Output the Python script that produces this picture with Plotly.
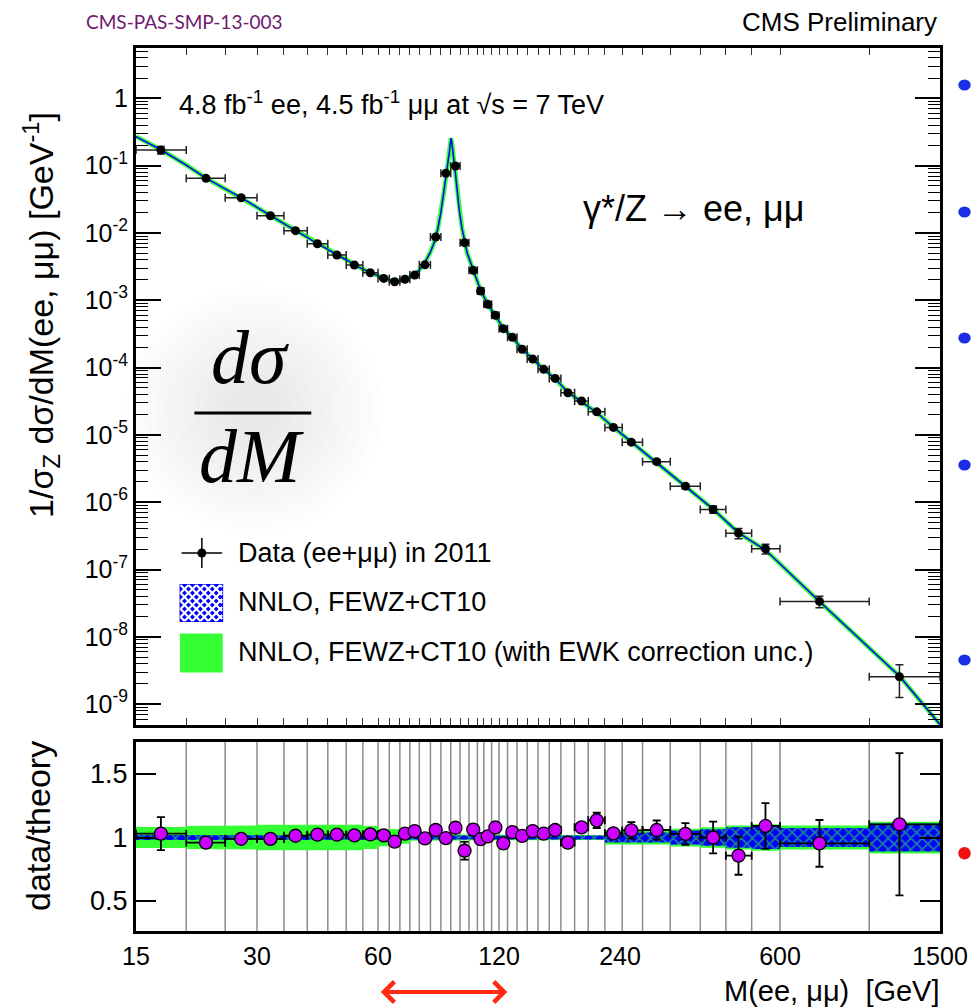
import plotly.graph_objects as go

# ---------------- data ----------------
bin_edges = [15, 20, 25, 30, 35, 40, 45, 50, 55, 60, 64, 68, 72, 76, 81, 86, 91, 96, 101,
             106, 110, 115, 120, 126, 133, 141, 150, 160, 171, 185, 200, 220, 243, 273,
             320, 380, 440, 510, 600, 1000, 1500]

mass_pts = [17.3, 22.4, 27.4, 32.4, 37.4, 42.4, 47.4, 52.4, 57.4, 62.0, 66.0, 70.0, 74.0,
            78.5, 83.5, 88.5, 93.5, 98.5, 103.5, 108.0, 112.5, 117.5, 123.0, 129.5, 137.0,
            145.5, 155.0, 165.5, 178.0, 192.5, 210.0, 231.0, 256.0, 296.0, 349.0, 409.0,
            473.0, 552.0, 752.0, 1189.0]

xsec = [0.170, 0.0647, 0.0333, 0.0180, 0.0108, 0.00691, 0.00470, 0.00334, 0.00256, 0.00211,
        0.00188, 0.00205, 0.00237, 0.00337, 0.00869, 0.0769, 0.0987, 0.00716, 0.00278,
        0.00137, 8.7e-4, 5.97e-4, 3.78e-4, 2.81e-4, 1.87e-4, 1.34e-4, 9.4e-5, 6.9e-5,
        4.23e-5, 3.18e-5, 2.2e-5, 1.29e-5, 7.8e-6, 4.0e-6, 1.73e-6, 7.8e-7, 3.47e-7,
        2.03e-7, 3.36e-8, 2.55e-9]

ratio = [1.030, 0.959, 0.990, 0.989, 1.014, 1.023, 1.023, 1.017, 1.025, 1.017, 0.968, 1.030,
         1.050, 0.993, 1.059, 0.995, 1.077, 0.896, 1.062, 0.987, 1.009, 1.079, 0.954, 1.042,
         1.013, 1.051, 1.031, 1.059, 0.960, 1.080, 1.135, 1.033, 1.056, 1.059, 1.028, 1.000,
         0.857, 1.091, 0.954, 1.104]

ratio_err = [0.13, 0.03, 0.015, 0.015, 0.012, 0.01, 0.01, 0.01, 0.01, 0.01, 0.01, 0.01,
             0.012, 0.01, 0.04, 0.01, 0.015, 0.07, 0.04, 0.01, 0.01, 0.012, 0.02, 0.015,
             0.015, 0.02, 0.02, 0.03, 0.03, 0.035, 0.06, 0.03, 0.065, 0.075, 0.085, 0.125,
             0.15, 0.18, 0.184, 0.56]

theory_mass = [15, 17.3, 20, 22.4, 25, 27.4, 30, 32.4, 35, 37.4, 40, 42.4, 45, 47.4, 50, 52.4,
               55, 57.4, 60, 62, 64, 66, 68, 70, 72, 74, 76, 79, 81, 83, 84.5, 86, 87.5, 88.5,
               89.5, 90.3, 90.8, 91.1, 91.4, 91.8, 92.5, 93.5, 94.5, 95.5, 97, 98.5, 100, 102,
               103.5, 106, 108, 112.5, 117.5, 123, 129.5, 137, 145.5, 155, 165.5, 178, 192.5,
               210, 231, 256, 294, 349, 409, 473, 552, 750, 1000, 1190, 1500]

theory_xsec = [0.27, 0.172, 0.102, 0.065, 0.045, 0.0335, 0.024, 0.018, 0.0138, 0.0108, 0.0086,
               0.0069, 0.0057, 0.0047, 0.0040, 0.00335, 0.0029, 0.00256, 0.0023, 0.00212,
               0.0020, 0.00192, 0.00194, 0.00205, 0.0022, 0.0024, 0.0028, 0.0039, 0.0052,
               0.0075, 0.0115, 0.020, 0.040, 0.065, 0.10, 0.16, 0.215, 0.255, 0.24, 0.20, 0.13,
               0.075, 0.040, 0.022, 0.012, 0.0075, 0.0050, 0.0036, 0.0028, 0.0019, 0.0014,
               8.7e-4, 5.95e-4, 3.8e-4, 2.8e-4, 1.88e-4, 1.33e-4, 9.4e-5, 6.8e-5, 4.3e-5,
               3.1e-5, 2.15e-5, 1.3e-5, 7.9e-6, 4.0e-6, 1.75e-6, 7.9e-7, 3.5e-7, 1.95e-7,
               3.4e-8, 6.9e-9, 2.6e-9, 5.0e-10]

# relative half-widths of the theory bands in the ratio panel (one per bin)
ewk_band_hw = [0.083, 0.09, 0.095, 0.10, 0.105, 0.105, 0.10, 0.10, 0.09, 0.07, 0.065, 0.05,
               0.025, 0.025, 0.025, 0.025, 0.02, 0.02, 0.02, 0.02, 0.02, 0.02, 0.02, 0.02,
               0.02, 0.02, 0.02, 0.02, 0.02, 0.02, 0.02, 0.055, 0.055, 0.055, 0.07, 0.08,
               0.095, 0.105, 0.095, 0.125]
fewz_band_hw = [0.02, 0.02, 0.02, 0.02, 0.02, 0.02, 0.02, 0.02, 0.02, 0.02, 0.02, 0.02,
                0.015, 0.015, 0.015, 0.015, 0.015, 0.015, 0.015, 0.015, 0.015, 0.015, 0.015,
                0.015, 0.015, 0.015, 0.015, 0.015, 0.015, 0.015, 0.015, 0.04, 0.04, 0.04,
                0.055, 0.065, 0.08, 0.09, 0.075, 0.11]

x_ticks_bottom = [15, 30, 60, 120, 240, 600, 1500]
x_tick_text = ["15", "30", "60", "120", "240", "600", "1500"]
y_ticks_top = [1e-9, 1e-8, 1e-7, 1e-6, 1e-5, 1e-4, 1e-3, 1e-2, 1e-1, 1]
y_tick_text_top = ["10<sup>-9</sup>", "10<sup>-8</sup>", "10<sup>-7</sup>", "10<sup>-6</sup>",
                   "10<sup>-5</sup>", "10<sup>-4</sup>", "10<sup>-3</sup>", "10<sup>-2</sup>",
                   "10<sup>-1</sup>", "1"]
legend_labels = ["Data (ee+μμ) in 2011", "NNLO, FEWZ+CT10",
                 "NNLO, FEWZ+CT10 (with EWK correction unc.)"]

# ---------------- geometry helpers ----------------
W, H = 980, 1008
L, R, T, B = 136, 32, 48, 77
PW, PH = W - L - R, H - T - B


def px(xp):
    return (xp - L) / PW


def py(yp):
    return (H - B - yp) / PH


FONT = "Liberation Sans, Arial, sans-serif"
GREEN = "#33ff33"
BLUE = "#0000ff"
MAGENTA = "#cc00ff"

fig = go.Figure()

# vertical bin-edge lines in ratio panel
gx, gy = [], []
for e in bin_edges[1:-1]:
    gx += [e, e, None]
    gy += [0.264, 1.752, None]
fig.add_trace(go.Scatter(x=gx, y=gy, mode="lines", line=dict(color="#8c8c8c", width=1.5),
                         xaxis="x2", yaxis="y2", showlegend=False, hoverinfo="skip"))


def band_polygon(hw):
    xs, up, lo = [], [], []
    for i in range(len(hw)):
        xs += [bin_edges[i], bin_edges[i + 1]]
        up += [1 + hw[i]] * 2
        lo += [1 - hw[i]] * 2
    return xs + xs[::-1], up + lo[::-1]


bx, by = band_polygon(ewk_band_hw)
fig.add_trace(go.Scatter(x=bx, y=by, mode="lines", fill="toself", fillcolor=GREEN,
                         line=dict(width=0, color=GREEN), xaxis="x2", yaxis="y2",
                         name=legend_labels[2], showlegend=False, hoverinfo="skip"))
bx, by = band_polygon(fewz_band_hw)
fig.add_trace(go.Scatter(x=bx, y=by, mode="lines", fill="toself", fillcolor=BLUE,
                         fillpattern=dict(shape="x", fgcolor=GREEN, bgcolor=BLUE,
                                          size=8, solidity=0.4),
                         line=dict(width=0, color=BLUE), xaxis="x2", yaxis="y2",
                         name=legend_labels[1], showlegend=False, hoverinfo="skip"))

# theory curve in top panel
fig.add_trace(go.Scatter(x=theory_mass, y=theory_xsec, mode="lines",
                         line=dict(color=GREEN, width=4.5), showlegend=False,
                         xaxis="x", yaxis="y", hoverinfo="skip"))
fig.add_trace(go.Scatter(x=theory_mass, y=theory_xsec, mode="lines",
                         line=dict(color=BLUE, width=1.5), showlegend=False,
                         xaxis="x", yaxis="y"))

# x errors from bin edges
ex_plus = [bin_edges[i + 1] - mass_pts[i] for i in range(len(mass_pts))]
ex_minus = [mass_pts[i] - bin_edges[i] for i in range(len(mass_pts))]
ey_top = [xsec[i] * ratio_err[i] / ratio[i] for i in range(len(mass_pts))]

fig.add_trace(go.Scatter(x=mass_pts, y=xsec, mode="markers",
                         marker=dict(color="black", size=9),
                         error_x=dict(type="data", array=ex_plus, arrayminus=ex_minus,
                                      color="#222222", thickness=1.5, width=4),
                         error_y=dict(type="data", array=ey_top, color="#222222",
                                      thickness=1.5, width=4),
                         name=legend_labels[0], showlegend=False,
                         xaxis="x", yaxis="y"))

fig.add_trace(go.Scatter(x=mass_pts, y=ratio, mode="markers",
                         marker=dict(color=MAGENTA, size=13, line=dict(color="black", width=1.3)),
                         error_x=dict(type="data", array=ex_plus, arrayminus=ex_minus,
                                      color="black", thickness=1.8, width=4),
                         error_y=dict(type="data", array=ratio_err, color="black",
                                      thickness=1.8, width=4),
                         showlegend=False, xaxis="x2", yaxis="y2"))

# ---------------- decorations ----------------
shapes = []


def pline(x0, y0, x1, y1, color, width):
    return dict(type="line", xref="paper", yref="paper", x0=px(x0), y0=py(y0),
                x1=px(x1), y1=py(y1), line=dict(color=color, width=width))


# soft shadow behind d sigma / dM
cx, cy = 255, 410
for r in range(30, 131, 10):
    shapes.append(dict(type="circle", xref="paper", yref="paper",
                       x0=px(cx - r), x1=px(cx + r), y0=py(cy + r * 0.95), y1=py(cy - r * 0.95),
                       fillcolor="rgba(0,0,0,0.009)", line=dict(width=0), layer="below"))
# fraction bar
shapes.append(pline(195, 413, 313, 413, "black", 3))

# manual legend icons
shapes.append(pline(182, 553, 223, 553, "black", 1.5))
shapes.append(pline(202.5, 538, 202.5, 568, "black", 1.5))
shapes.append(dict(type="circle", xref="paper", yref="paper", x0=px(198), x1=px(207),
                   y0=py(557.5), y1=py(548.5), fillcolor="black", line=dict(width=0)))
# hatched icon
hx0, hx1, hy0, hy1 = 181, 223, 585, 621
shapes.append(dict(type="rect", xref="paper", yref="paper", x0=px(hx0), x1=px(hx1),
                   y0=py(hy1), y1=py(hy0), fillcolor=BLUE, line=dict(color=BLUE, width=2)))
step = 8
for sgn in (1, -1):
    for k in range(-8, 14):
        xs = hx0 + k * step
        if sgn == 1:
            t0, t1 = max(hx0 - xs, 0), min(hx1 - xs, hy1 - hy0)
        else:
            t0, t1 = max(xs - hx1, 0), min(xs - hx0, hy1 - hy0)
        if t1 - t0 > 1:
            shapes.append(pline(xs + sgn * t0, hy0 + t0, xs + sgn * t1, hy0 + t1, "white", 2.2))
# green icon
shapes.append(dict(type="rect", xref="paper", yref="paper", x0=px(181), x1=px(223),
                   y0=py(672), y1=py(634), fillcolor=GREEN, line=dict(color=GREEN, width=1)))

# bullets cut at right edge
for yb in [85, 212, 338, 465, 660]:
    shapes.append(dict(type="circle", xref="paper", yref="paper", x0=px(966.5), x1=px(979),
                       y0=py(yb + 5.5), y1=py(yb - 5.5), fillcolor="#1a2ee6",
                       line=dict(width=0)))
shapes.append(dict(type="circle", xref="paper", yref="paper", x0=px(966.5), x1=px(979),
                   y0=py(859.5), y1=py(847), fillcolor="#f01010", line=dict(width=0)))

annotations = [
    dict(text="CMS-PAS-SMP-13-003", x=px(83), y=py(22), xref="paper", yref="paper",
         xanchor="left", yanchor="middle", showarrow=False,
         font=dict(family="Lato, Noto Sans, sans-serif", size=19, color="#6e1a6e")),
    dict(text="CMS Preliminary", x=px(947), y=py(22), xref="paper", yref="paper",
         xanchor="right", yanchor="middle", showarrow=False,
         font=dict(family=FONT, size=26, color="black")),
    dict(text="4.8 fb<sup>-1</sup> ee, 4.5 fb<sup>-1</sup> μμ at √s = 7 TeV", x=px(177),
         y=py(103), xref="paper", yref="paper", xanchor="left", yanchor="middle",
         showarrow=False, font=dict(family=FONT, size=27)),
    dict(text="γ*/Z → ee, μμ", x=px(585), y=py(208), xref="paper", yref="paper",
         xanchor="left", yanchor="middle", showarrow=False, font=dict(family=FONT, size=36)),
    dict(text="1/σ<sub>Z</sub> dσ/dM(ee, μμ) [GeV<sup>-1</sup>]", x=px(40), y=py(315),
         xref="paper", yref="paper", xanchor="center", yanchor="middle", textangle=-90,
         showarrow=False, font=dict(family=FONT, size=34)),
    dict(text="data/theory", x=px(37), y=py(826), xref="paper", yref="paper",
         xanchor="center", yanchor="middle", textangle=-90, showarrow=False,
         font=dict(family=FONT, size=34)),
    dict(text="M(ee, μμ)  [GeV]", x=px(949), y=py(1008), xref="paper", yref="paper",
         xanchor="right", yanchor="bottom", showarrow=False, borderpad=0,
         font=dict(family=FONT, size=29)),
    dict(text="<i>dσ</i>", x=px(251), y=py(357), xref="paper", yref="paper",
         xanchor="center", yanchor="middle", showarrow=False,
         font=dict(family="Liberation Serif, serif", size=76, color="black")),
    dict(text="<i>dM</i>", x=px(253), y=py(456), xref="paper", yref="paper",
         xanchor="center", yanchor="middle", showarrow=False,
         font=dict(family="Liberation Serif, serif", size=76, color="black")),
    dict(text="", x=px(511), y=py(992), xref="paper", yref="paper", ax=-128, ay=0,
         axref="pixel", ayref="pixel", showarrow=True, arrowside="end+start",
         arrowhead=4, startarrowhead=4, arrowsize=1, startarrowsize=1, arrowwidth=4,
         arrowcolor="#ff2a10"),
]
for i, (lab, yl) in enumerate(zip(legend_labels, [553, 602, 652])):
    annotations.append(dict(text=lab, x=px(237), y=py(yl), xref="paper", yref="paper",
                            xanchor="left", yanchor="middle", showarrow=False,
                            font=dict(family=FONT, size=27)))

axis_common = dict(type="log", range=[1.17609, 3.17609], showline=True, linewidth=3,
                   linecolor="black", showgrid=False, zeroline=False)

fig.update_layout(
    width=W, height=H,
    margin=dict(l=L, r=R, t=T, b=B),
    paper_bgcolor="white", plot_bgcolor="white",
    font=dict(family=FONT, color="black", size=24),
    showlegend=False,
    xaxis=dict(**axis_common, domain=[0, 1], anchor="y", tickvals=bin_edges,
               ticks="inside", ticklen=7, tickwidth=1.2, tickcolor="#333333",
               showticklabels=False, mirror="allticks"),
    yaxis=dict(type="log", domain=[py(725), 1], range=[-9.31, 0.747], anchor="x",
               tickvals=y_ticks_top, ticktext=y_tick_text_top, ticks="inside", ticklen=25,
               tickwidth=1.5, tickcolor="black", showline=True, linewidth=3,
               linecolor="black", mirror="allticks", showgrid=False, zeroline=False,
               tickfont=dict(size=25),
               minor=dict(ticks="inside", ticklen=12, tickwidth=1.2, tickcolor="black",
                          dtick="D1", showgrid=False)),
    xaxis2=dict(**axis_common, domain=[0, 1], anchor="y2", tickvals=x_ticks_bottom,
                ticktext=x_tick_text, ticks="", mirror=True, tickfont=dict(size=25),
                ticklabelstandoff=1),
    yaxis2=dict(domain=[0, py(742)], range=[0.264, 1.752], anchor="x2",
                tickvals=[0.5, 1, 1.5], ticktext=["0.5", "1", "1.5"], ticks="inside",
                ticklen=20, tickwidth=1.5, tickcolor="black", showline=True, linewidth=3,
                linecolor="black", mirror="allticks", showgrid=False, zeroline=False,
                tickfont=dict(size=27)),
    shapes=shapes,
    annotations=annotations,
)

fig.write_html("out.html")
